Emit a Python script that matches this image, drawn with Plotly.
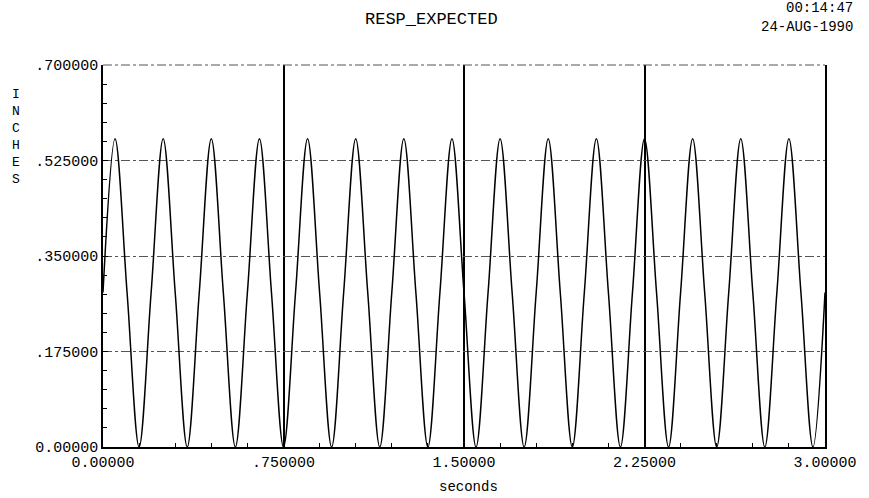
import plotly.graph_objects as go

# Response curve: samples every quarter period (0.05 s)
t = [0.00, 0.05, 0.10, 0.15, 0.20, 0.25, 0.30, 0.35, 0.40, 0.45,
     0.50, 0.55, 0.60, 0.65, 0.70, 0.75, 0.80, 0.85, 0.90, 0.95,
     1.00, 1.05, 1.10, 1.15, 1.20, 1.25, 1.30, 1.35, 1.40, 1.45,
     1.50, 1.55, 1.60, 1.65, 1.70, 1.75, 1.80, 1.85, 1.90, 1.95,
     2.00, 2.05, 2.10, 2.15, 2.20, 2.25, 2.30, 2.35, 2.40, 2.45,
     2.50, 2.55, 2.60, 2.65, 2.70, 2.75, 2.80, 2.85, 2.90, 2.95, 3.00]
inches = [0.283, 0.565, 0.283, 0.0, 0.283, 0.565, 0.283, 0.0, 0.283, 0.565,
          0.283, 0.0, 0.283, 0.565, 0.283, 0.0, 0.283, 0.565, 0.283, 0.0,
          0.283, 0.565, 0.283, 0.0, 0.283, 0.565, 0.283, 0.0, 0.283, 0.565,
          0.283, 0.0, 0.283, 0.565, 0.283, 0.0, 0.283, 0.565, 0.283, 0.0,
          0.283, 0.565, 0.283, 0.0, 0.283, 0.565, 0.283, 0.0, 0.283, 0.565,
          0.283, 0.0, 0.283, 0.565, 0.283, 0.0, 0.283, 0.565, 0.283, 0.0, 0.283]

x_tickvals = [0.0, 0.75, 1.5, 2.25, 3.0]
x_ticktext = ["0.00000", ".750000", "1.50000", "2.25000", "3.00000"]
y_tickvals = [0.0, 0.175, 0.35, 0.525, 0.7]
y_ticktext = ["0.00000", ".175000", ".350000", ".525000", ".700000"]

title_text = "RESP_EXPECTED"
time_text = "00:14:47"
date_text = "24-AUG-1990"
y_title = "INCHES"
x_title = "seconds"

FONT = "Liberation Mono"
L, R, T, B = 103, 831, 65, 447
PW, PH = R - L, B - T

fig = go.Figure()
fig.add_trace(go.Scatter(
    x=t, y=inches, mode="lines",
    line=dict(color="black", width=1.5, shape="spline", smoothing=1.0),
    hoverinfo="skip", showlegend=False,
))

fig.update_layout(
    width=869, height=498,
    margin=dict(l=L, r=869 - R, t=T, b=498 - B),
    paper_bgcolor="white", plot_bgcolor="white",
    font=dict(family=FONT, size=15, color="black"),
    showlegend=False,
)

fig.update_xaxes(
    range=[0, 3], tickvals=x_tickvals, ticktext=x_ticktext,
    showgrid=True, gridcolor="black", gridwidth=1.6,
    showline=True, linecolor="black", linewidth=1.5,
    ticks="inside", ticklen=5, tickcolor="black",
    minor=dict(dtick=0.15, tick0=0, ticks="inside", ticklen=4,
               tickcolor="black", showgrid=False),
    zeroline=False, tickfont=dict(family=FONT, size=15),
)
fig.update_yaxes(
    range=[0, 0.7], tickvals=y_tickvals, ticktext=y_ticktext,
    showgrid=True, gridcolor="#555555", gridwidth=1, griddash="dashdot",
    showline=True, linecolor="black", linewidth=1.5, mirror=True,
    ticks="inside", ticklen=5, tickcolor="black",
    minor=dict(dtick=0.035, tick0=0, ticks="inside", ticklen=4,
               tickcolor="black", showgrid=False),
    zeroline=False, tickfont=dict(family=FONT, size=15),
)

# dash-dot top frame line
fig.add_shape(type="line", xref="paper", yref="paper", x0=0, x1=1, y0=1, y1=1,
              line=dict(color="#555555", width=1.2, dash="dashdot"))

fig.add_annotation(text=title_text, xref="paper", yref="paper",
                   x=(434 - L) / PW, y=1 + (T - 19) / PH,
                   showarrow=False, font=dict(family=FONT, size=17),
                   xanchor="center", yanchor="middle")
fig.add_annotation(text=time_text, xref="paper", yref="paper",
                   x=(860 - L) / PW, y=1 + (T - 8) / PH,
                   showarrow=False, font=dict(family=FONT, size=14),
                   xanchor="right", yanchor="middle", borderpad=0)
fig.add_annotation(text=date_text, xref="paper", yref="paper",
                   x=(860 - L) / PW, y=1 + (T - 27) / PH,
                   showarrow=False, font=dict(family=FONT, size=14),
                   xanchor="right", yanchor="middle", borderpad=0)
fig.add_annotation(text="<br>".join(list(y_title)), xref="paper", yref="paper",
                   x=(15 - L) / PW, y=1 - (137 - T) / PH,
                   showarrow=False, font=dict(family=FONT, size=13),
                   xanchor="center", yanchor="middle")
fig.add_annotation(text=x_title, xref="paper", yref="paper",
                   x=(472 - L) / PW, y=-(487 - B) / PH,
                   showarrow=False, font=dict(family=FONT, size=14),
                   xanchor="center", yanchor="middle")

fig.write_html("out.html")
